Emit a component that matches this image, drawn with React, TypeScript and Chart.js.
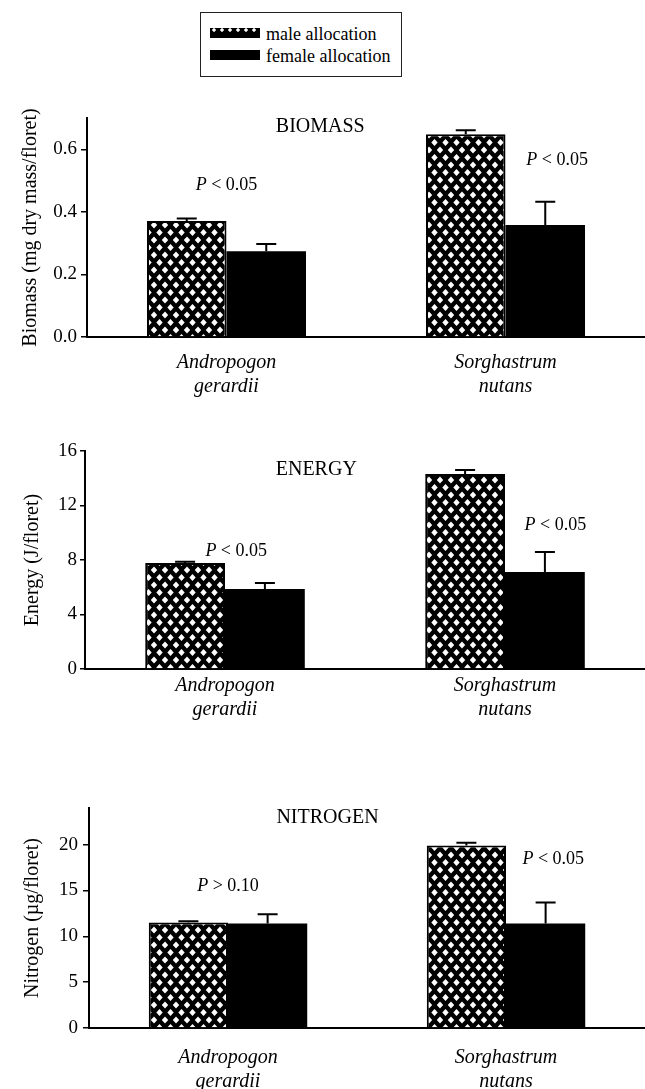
import React, { useEffect, useRef } from 'react';
import { Chart, registerables } from 'chart.js';

Chart.register(...registerables);

const FONT = '"Liberation Serif", "Times New Roman", serif';

// ---------- data ----------
const categories = [['Andropogon', 'gerardii'], ['Sorghastrum', 'nutans']];
const seriesNames = ['male allocation', 'female allocation'];

const biomassMale = [0.371, 0.648];
const biomassMaleErr = [0.008, 0.013];
const biomassFemale = [0.274, 0.358];
const biomassFemaleErr = [0.023, 0.074];
const biomassTicks = [0, 0.2, 0.4, 0.6];
const biomassP = ['< 0.05', '< 0.05'];

const energyMale = [7.78, 14.31];
const energyMaleErr = [0.1, 0.3];
const energyFemale = [5.87, 7.12];
const energyFemaleErr = [0.45, 1.47];
const energyTicks = [0, 4, 8, 12, 16];
const energyP = ['< 0.05', '< 0.05'];

const nitrogenMale = [11.5, 19.9];
const nitrogenMaleErr = [0.15, 0.3];
const nitrogenFemale = [11.4, 11.4];
const nitrogenFemaleErr = [1.0, 2.3];
const nitrogenTicks = [0, 5, 10, 15, 20];
const nitrogenP = ['> 0.10', '< 0.05'];

// ---------- helpers ----------
function makePattern(): CanvasPattern | string {
  const tile = document.createElement('canvas');
  tile.width = 11;
  tile.height = 15;
  const g = tile.getContext('2d');
  if (!g) return '#555';
  g.fillStyle = '#000';
  g.fillRect(0, 0, 11, 15);
  g.fillStyle = '#fff';
  const dia = (cx: number, cy: number) => {
    g.beginPath();
    g.moveTo(cx, cy - 3.4);
    g.lineTo(cx + 3.2, cy);
    g.lineTo(cx, cy + 3.4);
    g.lineTo(cx - 3.2, cy);
    g.closePath();
    g.fill();
  };
  [[0, 0], [11, 0], [0, 15], [11, 15], [5.5, 7.5]].forEach(([a, b]) => dia(a, b));
  return g.createPattern(tile, 'repeat') || '#555';
}

const errorBarPlugin = {
  id: 'errorBars',
  afterDatasetsDraw(chart: any) {
    const { ctx } = chart;
    const y = chart.scales.y;
    ctx.save();
    ctx.strokeStyle = '#000';
    ctx.lineWidth = 2;
    chart.data.datasets.forEach((ds: any, di: number) => {
      const meta = chart.getDatasetMeta(di);
      meta.data.forEach((bar: any, i: number) => {
        const v = ds.data[i];
        const e = ds.errors ? ds.errors[i] : 0;
        if (!e) return;
        const top = y.getPixelForValue(v + e);
        ctx.beginPath();
        ctx.moveTo(bar.x, bar.y);
        ctx.lineTo(bar.x, top);
        ctx.moveTo(bar.x - 10, top);
        ctx.lineTo(bar.x + 10, top);
        ctx.stroke();
      });
    });
    ctx.restore();
  },
};

const panelTextPlugin = {
  id: 'panelText',
  afterDraw(chart: any, _args: any, opts: any) {
    const { ctx, chartArea } = chart;
    const x = chart.scales.x;
    const y = chart.scales.y;
    ctx.save();
    ctx.fillStyle = '#000';
    ctx.textBaseline = 'middle';
    ctx.textAlign = 'center';
    ctx.font = `20px ${FONT}`;
    ctx.fillText(
      opts.heading,
      chartArea.left + opts.headingX * (chartArea.right - chartArea.left),
      y.getPixelForValue(opts.headingY)
    );
    const catW = x.getPixelForValue(1) - x.getPixelForValue(0);
    ctx.textAlign = 'left';
    (opts.pTexts || []).forEach((t: string, i: number) => {
      const pos = opts.pPos[i];
      const cx = x.getPixelForValue(i) + pos.dx * catW;
      const cy = y.getPixelForValue(pos.y);
      const italic = `italic 18px ${FONT}`;
      const normal = `18px ${FONT}`;
      ctx.font = italic;
      const w1 = ctx.measureText('P').width;
      ctx.font = normal;
      const rest = ' ' + t;
      const w2 = ctx.measureText(rest).width;
      const sx = cx - (w1 + w2) / 2;
      ctx.font = italic;
      ctx.fillText('P', sx, cy);
      ctx.font = normal;
      ctx.fillText(rest, sx + w1, cy);
    });
    ctx.restore();
  },
};

type PanelProps = {
  top: number;
  height: number;
  axisX: number;
  chartTop: number;
  xAxisH: number;
  tickLen: number;
  tickPad: number;
  titlePad: number;
  catPad: number;
  yTitle: string;
  yMax: number;
  yTicks: number[];
  digits: number;
  male: number[];
  maleErr: number[];
  female: number[];
  femaleErr: number[];
  heading: string;
  headingX: number;
  headingY: number;
  pTexts: string[];
  pPos: { dx: number; y: number }[];
};

function Panel(p: PanelProps) {
  const ref = useRef<HTMLCanvasElement | null>(null);
  useEffect(() => {
    if (!ref.current) return;
    const pattern = makePattern();
    const chart = new Chart(ref.current, {
      type: 'bar',
      data: {
        labels: categories as any,
        datasets: [
          {
            label: seriesNames[0],
            data: p.male,
            errors: p.maleErr,
            backgroundColor: pattern as any,
            borderColor: '#000',
            borderWidth: 2,
            borderSkipped: 'start',
          } as any,
          {
            label: seriesNames[1],
            data: p.female,
            errors: p.femaleErr,
            backgroundColor: '#000',
            borderColor: '#000',
            borderWidth: 0,
          } as any,
        ],
      },
      options: {
        responsive: false,
        animation: false,
        events: [],
        datasets: { bar: { categoryPercentage: 0.57, barPercentage: 1 } },
        layout: { padding: { top: p.chartTop, left: 0, right: 0, bottom: 0 } },
        plugins: {
          legend: { display: false },
          tooltip: { enabled: false },
          panelText: {
            heading: p.heading,
            headingX: p.headingX,
            headingY: p.headingY,
            pTexts: p.pTexts,
            pPos: p.pPos,
          },
        } as any,
        scales: {
          x: {
            type: 'category',
            offset: true,
            grid: { display: false },
            border: { display: true, color: '#000', width: 2 },
            ticks: {
              color: '#000',
              font: { family: FONT, size: 20, style: 'italic' },
              padding: p.catPad,
              maxRotation: 0,
              autoSkip: false,
            },
            afterFit: (s: any) => {
              s.height = p.xAxisH;
            },
          },
          y: {
            min: 0,
            max: p.yMax,
            grid: {
              display: true,
              drawOnChartArea: false,
              drawTicks: true,
              tickLength: p.tickLen,
              color: '#000',
              lineWidth: 1.5,
            },
            border: { display: true, color: '#000', width: 2 },
            ticks: {
              color: '#000',
              font: { family: FONT, size: 19 },
              padding: p.tickPad,
              callback: (v: any) => Number(v).toFixed(p.digits),
            },
            afterBuildTicks: (s: any) => {
              s.ticks = p.yTicks.map((v) => ({ value: v }));
            },
            afterFit: (s: any) => {
              s.width = p.axisX;
            },
            title: {
              display: true,
              text: p.yTitle,
              color: '#000',
              font: { family: FONT, size: 20 },
              padding: { top: p.titlePad, bottom: 0 },
            },
          },
        } as any,
      },
      plugins: [errorBarPlugin, panelTextPlugin],
    });
    return () => chart.destroy();
  }, []);
  return (
    <canvas
      ref={ref}
      width={645}
      height={p.height}
      style={{ position: 'absolute', left: 0, top: p.top, width: 645, height: p.height }}
    />
  );
}

function Legend() {
  const sw: React.CSSProperties = {
    position: 'absolute',
    left: 9,
    width: 50,
    height: 10,
    background: '#000',
  };
  const txt: React.CSSProperties = {
    position: 'absolute',
    left: 65,
    fontFamily: FONT,
    fontSize: 18,
    lineHeight: '20px',
    color: '#000',
    whiteSpace: 'nowrap',
  };
  return (
    <div
      style={{
        position: 'absolute',
        left: 200,
        top: 12,
        width: 202,
        height: 65,
        border: '1px solid #222',
        boxSizing: 'border-box',
      }}
    >
      <div
        style={{
          ...sw,
          top: 15,
          backgroundImage: 'radial-gradient(circle, #fff 1.4px, transparent 2px)',
          backgroundSize: '8px 10px',
          backgroundPosition: '0px -3px',
        }}
      />
      <div style={{ ...txt, top: 11 }}>{seriesNames[0]}</div>
      <div style={{ ...sw, top: 37 }} />
      <div style={{ ...txt, top: 33 }}>{seriesNames[1]}</div>
    </div>
  );
}

export default function App() {
  return (
    <div style={{ position: 'absolute', left: 0, top: 0, width: 645, height: 1089, background: '#fff' }}>
      <Legend />
      <Panel
        top={90}
        height={320}
        axisX={87}
        chartTop={28}
        xAxisH={73}
        tickLen={6}
        tickPad={4}
        titlePad={19}
        catPad={6}
        yTitle="Biomass (mg dry mass/floret)"
        yMax={0.7}
        yTicks={biomassTicks}
        digits={1}
        male={biomassMale}
        maleErr={biomassMaleErr}
        female={biomassFemale}
        femaleErr={biomassFemaleErr}
        heading="BIOMASS"
        headingX={0.418}
        headingY={0.671}
        pTexts={biomassP}
        pPos={[{ dx: 0, y: 0.484 }, { dx: 0.185, y: 0.565 }]}
      />
      <Panel
        top={420}
        height={320}
        axisX={85}
        chartTop={31}
        xAxisH={71}
        tickLen={5}
        tickPad={3}
        titlePad={21}
        catPad={-3}
        yTitle="Energy (J/floret)"
        yMax={16}
        yTicks={energyTicks}
        digits={0}
        male={energyMale}
        maleErr={energyMaleErr}
        female={energyFemale}
        femaleErr={energyFemaleErr}
        heading="ENERGY"
        headingX={0.413}
        headingY={14.6}
        pTexts={energyP}
        pPos={[{ dx: 0.04, y: 8.66 }, { dx: 0.18, y: 10.57 }]}
      />
      <Panel
        top={780}
        height={309}
        axisX={89}
        chartTop={28}
        xAxisH={61}
        tickLen={6}
        tickPad={5}
        titlePad={21}
        catPad={10}
        yTitle="Nitrogen (µg/floret)"
        yMax={24}
        yTicks={nitrogenTicks}
        digits={0}
        male={nitrogenMale}
        maleErr={nitrogenMaleErr}
        female={nitrogenFemale}
        femaleErr={nitrogenFemaleErr}
        heading="NITROGEN"
        headingX={0.429}
        headingY={22.98}
        pTexts={nitrogenP}
        pPos={[{ dx: 0, y: 15.43 }, { dx: 0.17, y: 18.38 }]}
      />
    </div>
  );
}
